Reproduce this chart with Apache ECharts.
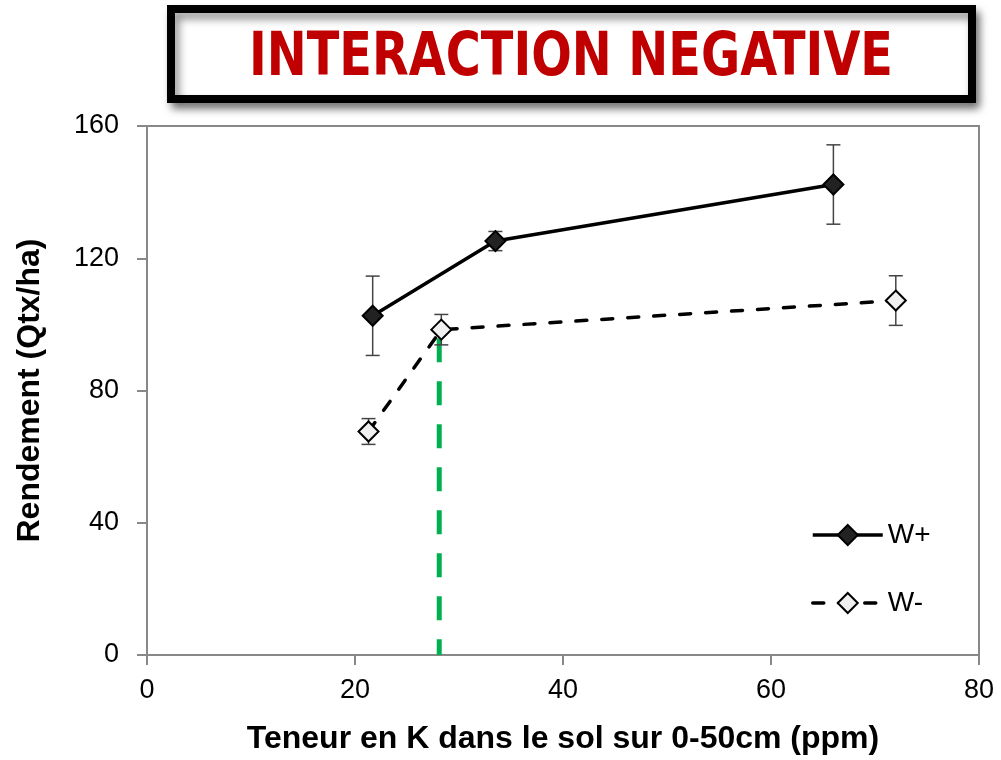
<!DOCTYPE html>
<html>
<head>
<meta charset="utf-8">
<script src="https://cdn.jsdelivr.net/npm/echarts@6/dist/echarts.min.js"></script>
<style>
  html, body { margin: 0; padding: 0; background: #fff; }
  #chart { width: 1001px; height: 760px; }
</style>
</head>
<body>
<div id="chart"></div>
<script>
// Soil K content (ppm) vs. yield (Qtx/ha), with and without W
const titleText = 'INTERACTION NEGATIVE';
const xAxisName = 'Teneur en K dans le sol sur 0-50cm (ppm)';
const yAxisName = 'Rendement (Qtx/ha)';

const wPlusK     = [21.7, 33.5, 66.0];
const wPlusYield = [102.6, 125.2, 142.3];
const wPlusErr   = [12.0, 2.9, 12.0];

const wMinusK     = [21.3, 28.3, 72.0];
const wMinusYield = [67.6, 98.4, 107.2];
const wMinusErr   = [3.9, 4.6, 7.5];

// threshold K level marked by the green dashed line
const thresholdK = 28.1;
const thresholdTop = 95.8;

const xTicks = { min: 0, max: 80, interval: 20 };
const yTicks = { min: 0, max: 160, interval: 40 };

const pts = (xs, ys) => xs.map((x, i) => [x, ys[i]]);
const errPts = (xs, ys, es) => xs.map((x, i) => [x, ys[i], es[i]]);

function renderErrorBar(params, api) {
  const x = api.value(0), y = api.value(1), e = api.value(2);
  const hi = api.coord([x, y + e]);
  const lo = api.coord([x, y - e]);
  const cap = 7;
  const style = { stroke: '#444', lineWidth: 1.5 };
  return {
    type: 'group',
    children: [
      { type: 'line', shape: { x1: hi[0], y1: hi[1], x2: lo[0], y2: lo[1] }, style },
      { type: 'line', shape: { x1: hi[0] - cap, y1: hi[1], x2: hi[0] + cap, y2: hi[1] }, style },
      { type: 'line', shape: { x1: lo[0] - cap, y1: lo[1], x2: lo[0] + cap, y2: lo[1] }, style }
    ]
  };
}

const chart = echarts.init(document.getElementById('chart'), null, { renderer: 'canvas' });

const labelFont = 'Liberation Sans, Arial, sans-serif';

chart.setOption({
  animation: false,
  backgroundColor: '#fff',
  grid: { left: 147, right: 22, top: 126, bottom: 102, show: true, borderColor: '#888', borderWidth: 2, backgroundColor: 'transparent' },
  graphic: [
    {
      type: 'rect',
      shape: { x: 171, y: 9, width: 801, height: 90 },
      style: {
        fill: '#fff', stroke: '#000', lineWidth: 8,
        shadowBlur: 8, shadowOffsetX: 4, shadowOffsetY: 6, shadowColor: 'rgba(0,0,0,0.45)'
      },
      z: 10
    },
    {
      type: 'text',
      x: 571, y: 59,
      scaleX: 0.885,
      style: {
        text: titleText,
        fill: '#c00000',
        font: 'bold 60px "Liberation Sans Narrow", "DejaVu Sans Condensed", sans-serif',
        textAlign: 'center', textVerticalAlign: 'middle'
      },
      z: 11
    }
  ],
  legend: {
    data: ['W+', 'W-'],
    orient: 'vertical',
    left: 806, top: 516,
    padding: 5,
    itemWidth: 70, itemHeight: 25, itemGap: 40,
    lineStyle: { width: 3.5 },
    textStyle: { fontSize: 28, color: '#000', fontFamily: labelFont }
  },
  xAxis: {
    type: 'value',
    min: xTicks.min, max: xTicks.max, interval: xTicks.interval,
    name: xAxisName, nameLocation: 'middle', nameGap: 68,
    nameTextStyle: { fontSize: 32, fontWeight: 'bold', color: '#000', fontFamily: labelFont },
    axisLine: { show: true, lineStyle: { color: '#888', width: 2 } },
    axisTick: { show: true, inside: false, length: 10, lineStyle: { color: '#888', width: 2 } },
    axisLabel: { fontSize: 27, color: '#000', margin: 22, fontFamily: labelFont },
    splitLine: { show: false }
  },
  yAxis: {
    type: 'value',
    min: yTicks.min, max: yTicks.max, interval: yTicks.interval,
    name: yAxisName, nameLocation: 'middle', nameGap: 101,
    nameTextStyle: { fontSize: 32, fontWeight: 'bold', color: '#000', fontFamily: labelFont },
    axisLine: { show: true, lineStyle: { color: '#888', width: 2 } },
    axisTick: { show: true, inside: false, length: 10, lineStyle: { color: '#888', width: 2 } },
    axisLabel: { fontSize: 27, color: '#000', margin: 28, fontFamily: labelFont },
    splitLine: { show: false }
  },
  series: [
    {
      name: 'threshold',
      type: 'line',
      data: [[thresholdK, thresholdTop], [thresholdK, 0]],
      symbol: 'none',
      lineStyle: { color: '#00b050', width: 5, type: [24, 19], cap: 'butt' },
      z: 1,
      silent: true
    },
    {
      name: 'errPlus',
      type: 'custom',
      renderItem: renderErrorBar,
      data: errPts(wPlusK, wPlusYield, wPlusErr),
      z: 2,
      silent: true
    },
    {
      name: 'errMinus',
      type: 'custom',
      renderItem: renderErrorBar,
      data: errPts(wMinusK, wMinusYield, wMinusErr),
      z: 2,
      silent: true
    },
    {
      name: 'W+',
      type: 'line',
      data: pts(wPlusK, wPlusYield),
      symbol: 'diamond', symbolSize: 20,
      itemStyle: { color: '#222', borderColor: '#000', borderWidth: 2 },
      lineStyle: { color: '#000', width: 3.5 },
      z: 3
    },
    {
      name: 'W-',
      type: 'line',
      data: pts(wMinusK, wMinusYield),
      symbol: 'diamond', symbolSize: 20,
      itemStyle: { color: '#f0f0f0', borderColor: '#000', borderWidth: 2 },
      lineStyle: { color: '#000', width: 3.5, type: [11, 15], cap: 'round' },
      z: 3
    }
  ]
});
</script>
</body>
</html>
